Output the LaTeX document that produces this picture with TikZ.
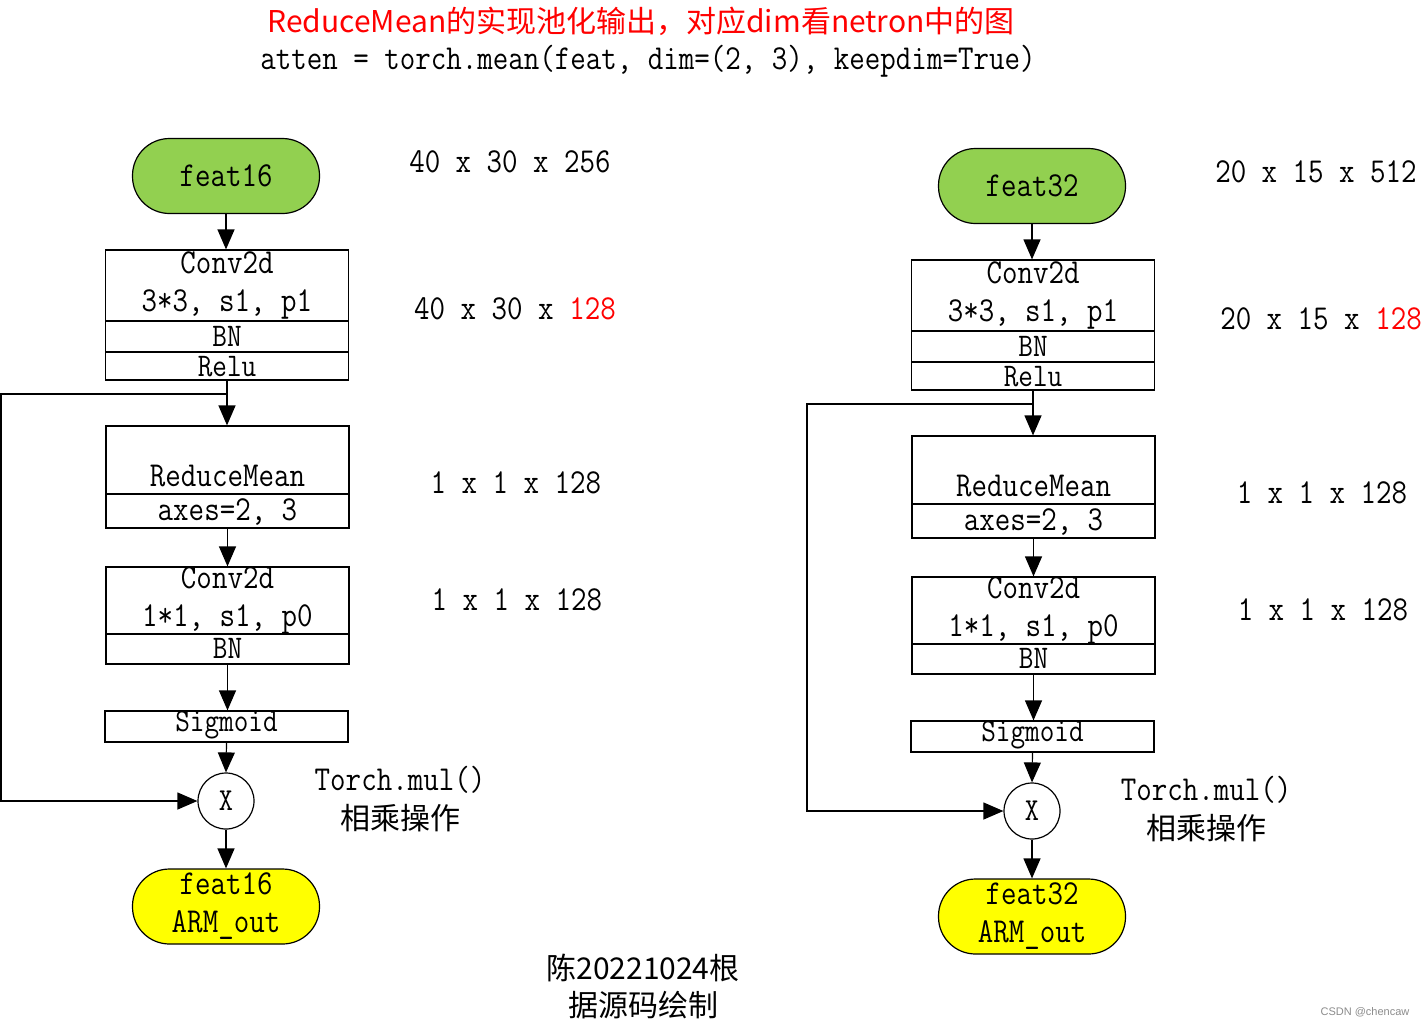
\documentclass[tikz,border=0pt]{standalone}
\usepackage{fontspec}
\setmainfont{Latin Modern Mono}[FakeStretch=0.86]
\newfontfamily\cjk{Noto Sans CJK SC}
\newfontfamily\wmfont{Liberation Sans}
\usetikzlibrary{arrows.meta}
\definecolor{termgreen}{RGB}{146,208,80}
\definecolor{termyellow}{RGB}{255,255,0}
\tikzset{
  conn/.style={line width=1.2pt,-{Triangle[width=17pt,length=20pt]}},
  blk/.style={draw,line width=1.2pt,minimum width=243pt,inner sep=0pt},
  term/.style={draw,line width=1.2pt,rounded corners=37pt,minimum width=187pt,minimum height=75pt,inner sep=0pt},
  txt/.style={inner sep=0pt,font=\fontsize{35}{38}\selectfont,align=center},
  smalltxt/.style={inner sep=0pt,font=\fontsize{33}{36}\selectfont,align=center},
  mulc/.style={draw,circle,line width=1.2pt,minimum size=56pt,inner sep=0pt,font=\fontsize{32}{34}\selectfont},
}
\newcommand\armcol[4]{%
\begin{scope}[name prefix=#1-]
  \node[term,fill=termgreen] (in) at (226,176) {};
  \node[txt] (intxt) at (226,176) {#2};
  \node[blk,minimum height=71pt] (conv) at (227,285.5) {};
  \node[txt] (convtxt) at (227,285) {Conv2d\\3*3, s1, p1};
  \node[blk,minimum height=31pt] (bn) at (227,336.5) {};
  \node[smalltxt] (bntxt) at (227,336) {BN};
  \node[blk,minimum height=28pt] (relu) at (227,366) {};
  \node[smalltxt] (relutxt) at (227,366.5) {Relu};
  \coordinate (tap) at (227,394);
  \coordinate (back) at (1,394);
  \node[blk,minimum height=68pt] (rm) at (227.5,460) {};
  \node[txt] (rmtxt) at (227.5,476) {ReduceMean};
  \node[blk,minimum height=34pt] (axes) at (227.5,511) {};
  \node[txt] (axestxt) at (227.5,512) {axes=2, 3};
  \node[blk,minimum height=67pt] (conv2) at (227.5,600.5) {};
  \node[txt] (conv2txt) at (227.5,600) {Conv2d\\1*1, s1, p0};
  \node[blk,minimum height=30pt] (bn2) at (227.5,649) {};
  \node[smalltxt] (bn2txt) at (227.5,648.5) {BN};
  \node[blk,minimum height=31pt] (sig) at (226.5,726.5) {};
  \node[smalltxt] (sigtxt) at (226.5,725) {Sigmoid};
  \node[mulc] (mul) at (226,801) {X};
  \node[term,fill=termyellow] (out) at (226,906.5) {};
  \node[txt] (outtxt) at (226,906) {#2\\ARM\_out};
  \node[txt] (d1) at (510,162) {#3};
  \node[txt] (d2) at (515,309) {#4 \textcolor{red}{128}};
  \node[txt] (d3) at (516,483) {1 x 1 x 128};
  \node[txt] (d4) at (517,600) {1 x 1 x 128};
  \node[txt] (mt) at (400,780) {Torch.mul()};
  \node[inner sep=0pt,font=\cjk\fontsize{30}{34}\selectfont] (mc) at (400,818) {相乘操作};
  \draw[conn] (in.south) -- (in.south |- conv.north);
  \draw[conn] (relu.south) -- (relu.south |- rm.north);
  \draw[conn] (axes.south) -- (axes.south |- conv2.north);
  \draw[conn] (bn2.south) -- (bn2.south |- sig.north);
  \draw[conn] (sig.south) -- (mul.north);
  \draw[conn] (mul.south) -- (out.north);
  \draw[conn] (tap) -- (back) |- (mul.west);
\end{scope}}
\begin{document}
\begin{tikzpicture}[x=1pt,y=-1pt]
  \useasboundingbox[fill=white] (0,0) rectangle (1426,1028);
  \node[inner sep=0pt,text=red,font=\cjk\fontsize{30}{34}\selectfont] (title) at (641,21) {ReduceMean的实现池化输出，对应dim看netron中的图};
  \node[txt] (code) at (648,61) {atten = torch.mean(feat, dim=(2, 3), keepdim=True)};
  \armcol{L}{feat16}{40 x 30 x 256}{40 x 30 x}
  \begin{scope}[shift={(806,10)}]
    \armcol{R}{feat32}{20 x 15 x 512}{20 x 15 x}
  \end{scope}
  \node[inner sep=0pt,font=\cjk\fontsize{30}{37}\selectfont,align=center] (foot) at (643,986) {陈20221024根\\据源码绘制};
  \node[inner sep=0pt,text=black!45,font=\wmfont\fontsize{11}{13}\selectfont] (wm) at (1365,1012) {CSDN @chencaw};
\end{tikzpicture}
\end{document}
